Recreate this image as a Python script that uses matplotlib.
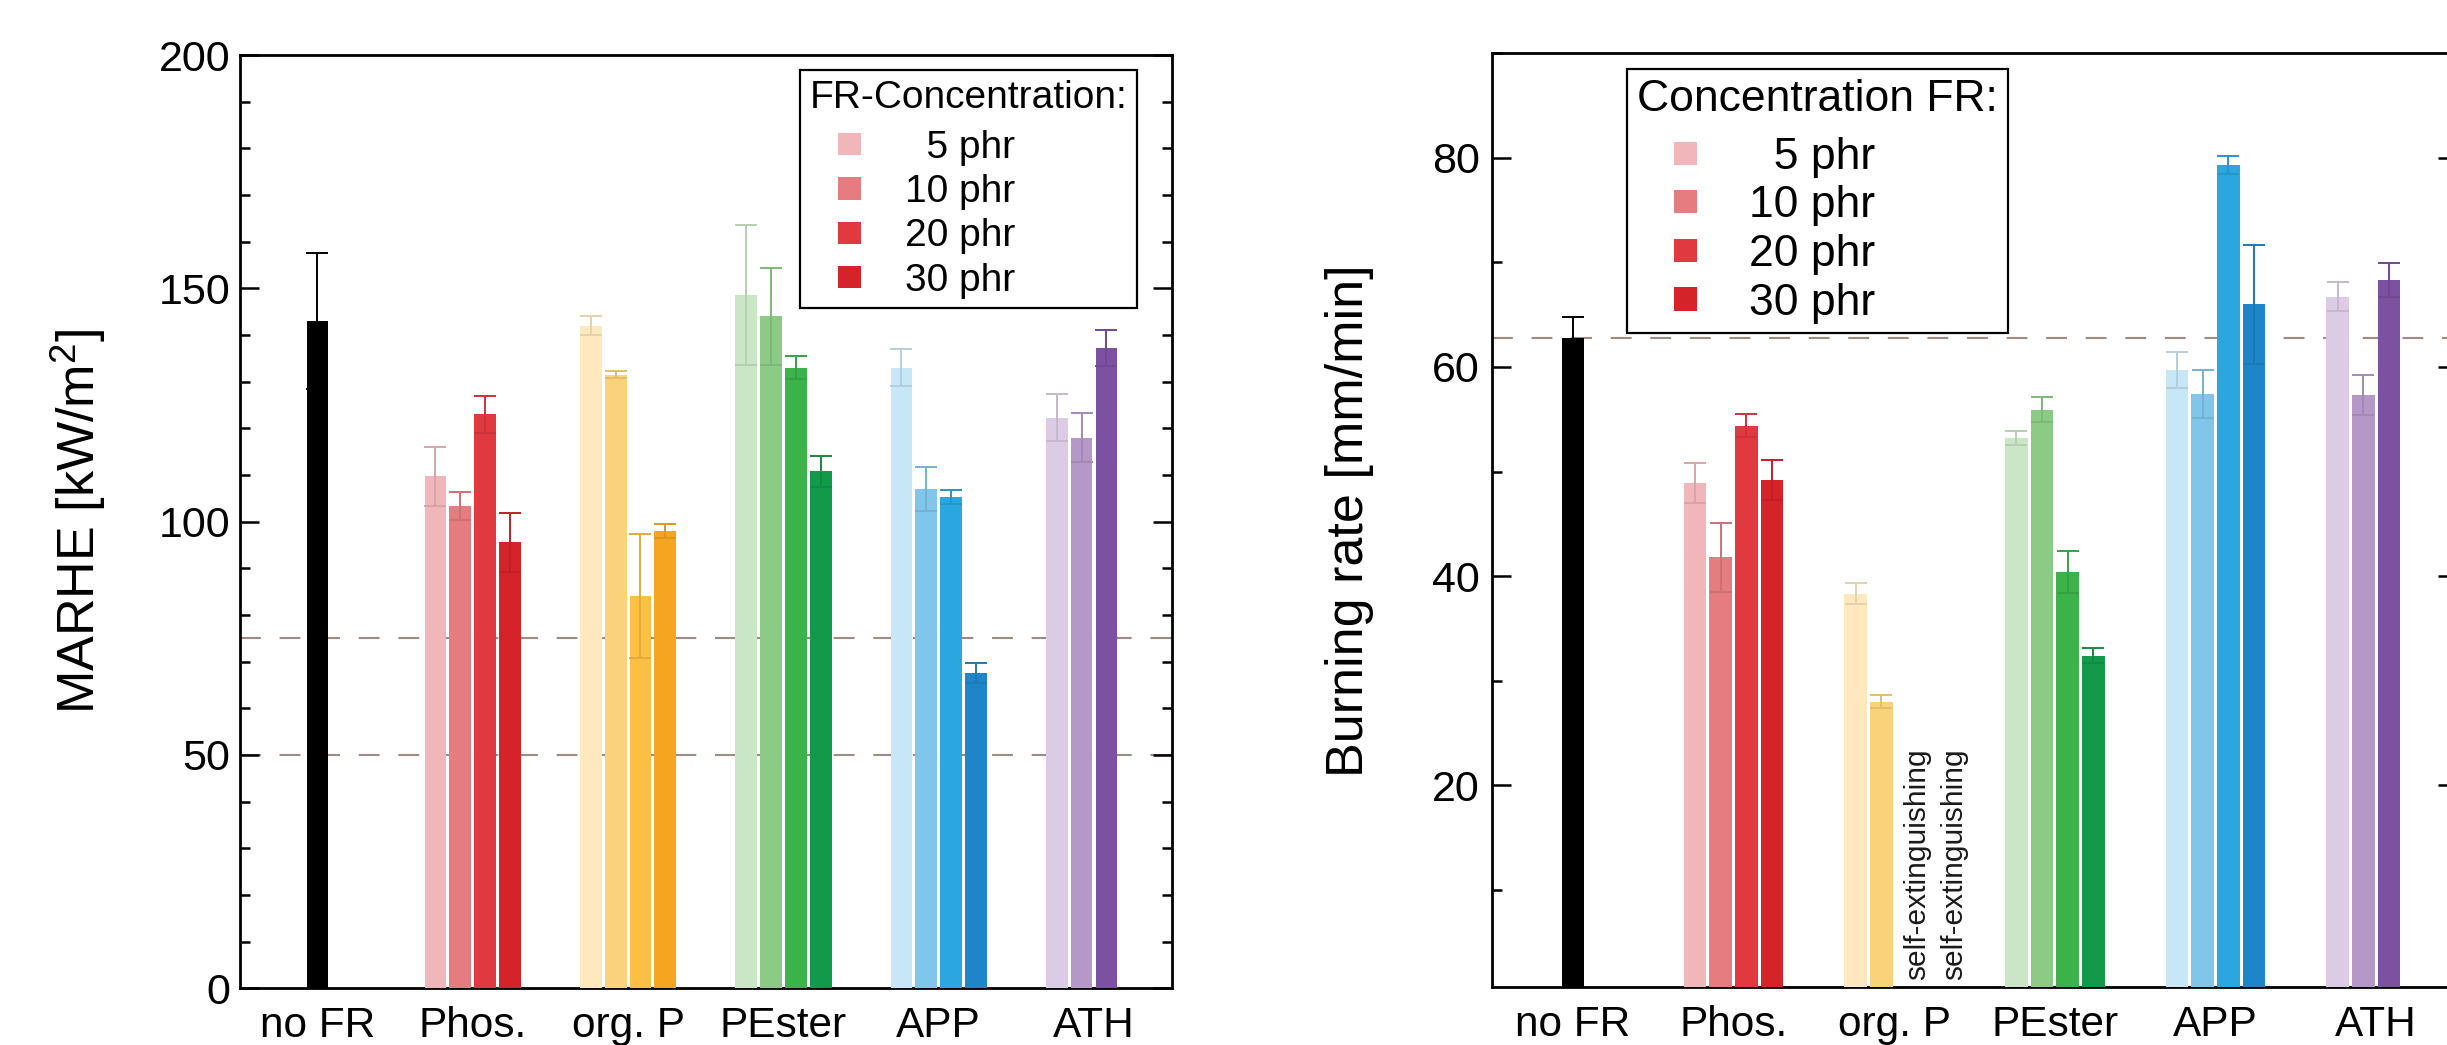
import matplotlib
matplotlib.use("Agg")
import matplotlib.pyplot as plt
from matplotlib.ticker import MultipleLocator
from matplotlib.patches import Rectangle
from matplotlib.legend_handler import HandlerBase
from matplotlib.colors import to_rgb

plt.rcParams['font.family'] = ['Liberation Sans', 'DejaVu Sans']
plt.rcParams['mathtext.fontset'] = 'custom'
plt.rcParams['mathtext.rm'] = 'Liberation Sans'
plt.rcParams['mathtext.it'] = 'Liberation Sans:italic'

# ---------------- data ----------------
categories = ["no FR", "Phos.", "org. P", "PEster", "APP", "ATH"]
legend_labels = ["  5 phr", "10 phr", "20 phr", "30 phr"]

# MARHE [kW/m2]
marhe_nofr = [143.0]
marhe_nofr_err = [14.5]
marhe_phos = [109.7, 103.4, 123.0, 95.6]
marhe_phos_err = [6.4, 3.0, 4.0, 6.3]
marhe_orgp = [142.0, 131.5, 84.0, 98.0]
marhe_orgp_err = [2.0, 0.8, 13.3, 1.6]
marhe_pester = [148.6, 144.0, 133.0, 110.8]
marhe_pester_err = [15.0, 10.4, 2.5, 3.3]
marhe_app = [133.0, 107.0, 105.3, 67.6]
marhe_app_err = [4.0, 4.8, 1.5, 2.2]
marhe_ath = [122.3, 118.0, 137.2]
marhe_ath_err = [5.0, 5.3, 3.8]
marhe_guides = [75, 50]

# Burning rate [mm/min]
rate_nofr = [62.8]
rate_nofr_err = [2.0]
rate_phos = [48.9, 41.8, 54.4, 49.2]
rate_phos_err = [1.9, 3.3, 1.1, 1.9]
rate_orgp = [38.3, 28.0]
rate_orgp_err = [1.0, 0.6]
rate_selfext_labels = ["self-extinguishing", "self-extinguishing"]   # org. P 20 / 30 phr
rate_pester = [53.2, 55.9, 40.4, 32.4]
rate_pester_err = [0.7, 1.2, 2.0, 0.7]
rate_app = [59.7, 57.4, 79.3, 66.0]
rate_app_err = [1.7, 2.3, 0.9, 5.7]
rate_ath = [66.7, 57.3, 68.3]
rate_ath_err = [1.4, 1.9, 1.6]

# ---------------- styles ----------------
col_nofr = ["#000000"]
col_phos = ["#f1b6b9", "#e57c80", "#e03a40", "#d5232a"]
col_orgp = ["#fde9bd", "#fbd27c", "#fabf43", "#f5a51f"]
col_pester = ["#c9e6c5", "#8ccb86", "#3cb24b", "#13994a"]
col_app = ["#c7e6f6", "#80c6ea", "#2ca6de", "#1e86c8"]
col_ath = ["#dccbe4", "#b597c8", "#7c51a2"]
guide_color = "#9e8b83"

SLOT = 0.16
BAR_W = 0.14
SELFEXT_DX = [0.19, 0.42]   # baseline offsets of the rotated notes from the org. P centre


def darken(c, f=0.9):
    r, g, b = to_rgb(c)
    return (r * f, g * f, b * f)


def draw_group(ax, gx, values, errs, colors, single=False):
    patches = []
    for k, (v, e) in enumerate(zip(values, errs)):
        x = gx if single else gx + (k - 1.5) * SLOT
        bc = ax.bar(x, v, width=BAR_W, color=colors[k], edgecolor='none', zorder=3)
        ax.errorbar(x, v, yerr=e, fmt='none', ecolor=darken(colors[k]),
                    elinewidth=1.4, capsize=7.8, capthick=1.4, zorder=4)
        patches.append(bc.patches[0])
    return patches


class IndentedSquare(HandlerBase):
    def __init__(self, frac):
        super().__init__()
        self.frac = frac

    def create_artists(self, legend, orig_handle, xdescent, ydescent,
                       width, height, fontsize, trans):
        side = self.frac * fontsize
        x = -xdescent + width - side
        y = -ydescent + (height - side) / 2
        r = Rectangle((x, y), side, side, facecolor=orig_handle.get_facecolor(),
                      edgecolor='none', transform=trans)
        return [r]


def style_axes(ax, major, minor, labelsize, pad):
    for s in ax.spines.values():
        s.set_linewidth(2.0)
    ax.yaxis.set_major_locator(MultipleLocator(major))
    ax.yaxis.set_minor_locator(MultipleLocator(minor))
    ax.tick_params(axis='y', which='both', direction='in', left=True, right=True,
                   width=1.8, labelsize=labelsize, pad=pad)
    ax.tick_params(axis='y', which='major', length=14)
    ax.tick_params(axis='y', which='minor', length=7.5)
    ax.set_xticks(range(len(categories)))
    ax.set_xticklabels(categories)
    ax.tick_params(axis='x', which='both', length=0, labelsize=30.5, pad=13)
    ax.set_xlim(-0.5, 5.5)


def make_legend(ax, handles, title, fontsize, anchor, loc, handlelength,
                handletextpad, labelspacing, borderpad, square, extra_sep):
    leg = ax.legend(handles, legend_labels, title=title, loc=loc,
                    bbox_to_anchor=anchor, borderaxespad=0, fontsize=fontsize,
                    title_fontsize=fontsize, alignment='left',
                    handlelength=handlelength, handleheight=0.7,
                    handletextpad=handletextpad, labelspacing=labelspacing,
                    borderpad=borderpad, frameon=True, fancybox=False,
                    framealpha=1, edgecolor='black',
                    handler_map={Rectangle: IndentedSquare(square)})
    leg.get_frame().set_linewidth(1.6)
    leg.set_zorder(10)
    leg._legend_box.sep = labelspacing * fontsize + extra_sep
    return leg


fig = plt.figure(figsize=(24.47, 10.45), dpi=100)
fig.patch.set_facecolor('white')

# ---------------- left: MARHE ----------------
ax1 = fig.add_axes([0.0980, 0.0543, 0.3808, 0.8930])
for g in marhe_guides:
    ax1.axhline(g, color=guide_color, lw=1.5, ls=(0, (10, 9)), zorder=1)
draw_group(ax1, 0, marhe_nofr, marhe_nofr_err, col_nofr, single=True)
leg_handles = draw_group(ax1, 1, marhe_phos, marhe_phos_err, col_phos)
draw_group(ax1, 2, marhe_orgp, marhe_orgp_err, col_orgp)
draw_group(ax1, 3, marhe_pester, marhe_pester_err, col_pester)
draw_group(ax1, 4, marhe_app, marhe_app_err, col_app)
draw_group(ax1, 5, marhe_ath, marhe_ath_err, col_ath)
ax1.set_ylim(0, 200)
style_axes(ax1, 50, 10, 31, 7)
ax1.set_ylabel("MARHE [kW/m$^2$]", fontsize=37.5)
ax1.yaxis.set_label_coords(-0.141, 0.5)
make_legend(ax1, leg_handles, "FR-Concentration:", 28, (0.963, 0.984),
            'upper right', 1.31, 1.13, 0.21, 0.25, 0.57, 4.4)

# ---------------- right: burning rate ----------------
ax2 = fig.add_axes([0.6099, 0.0552, 0.3940, 0.8940])
ax2.axhline(rate_nofr[0], color=guide_color, lw=1.5, ls=(0, (10, 9)), zorder=1)
draw_group(ax2, 0, rate_nofr, rate_nofr_err, col_nofr, single=True)
leg_handles2 = draw_group(ax2, 1, rate_phos, rate_phos_err, col_phos)
draw_group(ax2, 2, rate_orgp, rate_orgp_err, col_orgp)
for dx, txt in zip(SELFEXT_DX, rate_selfext_labels):
    ax2.text(2 + dx, 1.4, txt, rotation=90, rotation_mode='anchor',
             ha='left', va='baseline', fontsize=21.5, color='#1a1a1a', zorder=5)
draw_group(ax2, 3, rate_pester, rate_pester_err, col_pester)
draw_group(ax2, 4, rate_app, rate_app_err, col_app)
draw_group(ax2, 5, rate_ath, rate_ath_err, col_ath)
ax2.set_ylim(0.7, 90)
style_axes(ax2, 20, 10, 31, 9)
ax2.set_ylabel("Burning rate [mm/min]", fontsize=37.5)
ax2.yaxis.set_label_coords(-0.123, 0.5)
make_legend(ax2, leg_handles2, "Concentration FR:", 32, (0.14, 0.983),
            'upper left', 1.35, 1.17, 0.17, 0.22, 0.52, 6.9)

fig.savefig("out.png", dpi=100, facecolor='white')
